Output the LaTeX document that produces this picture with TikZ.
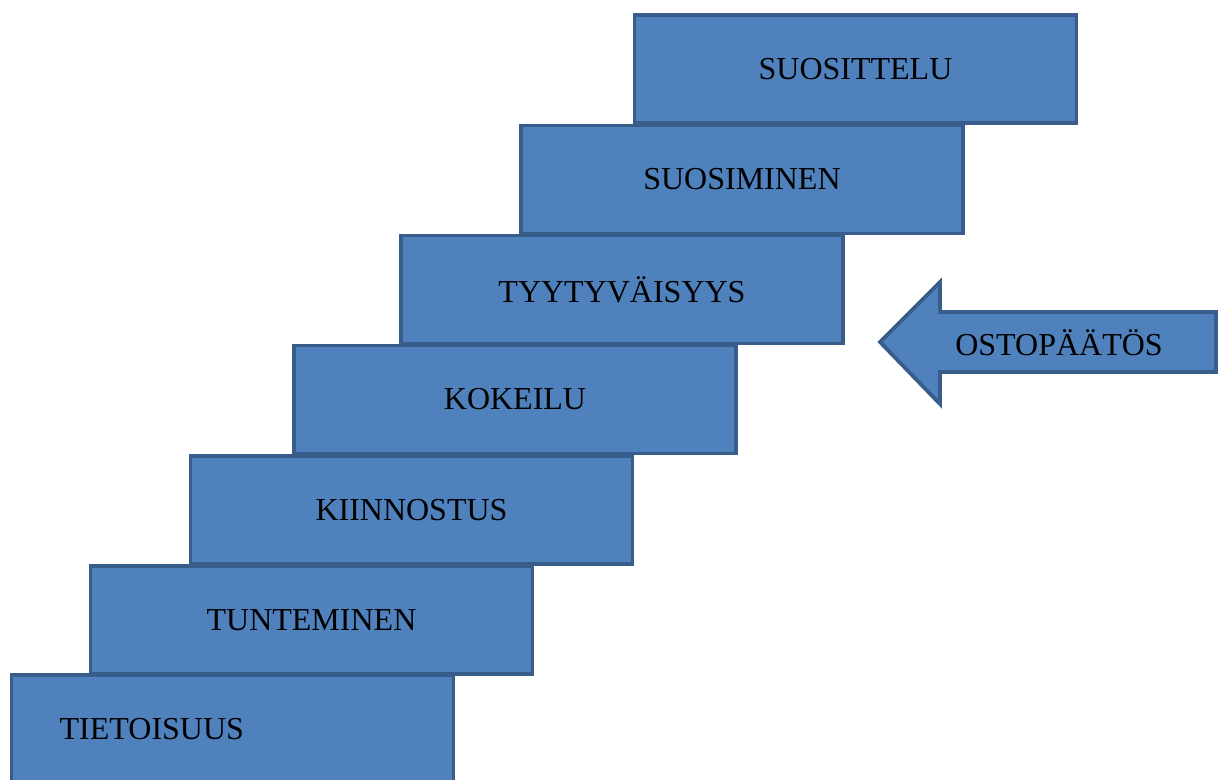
\documentclass[tikz,border=0pt]{standalone}
\usepackage{fontspec}
\setmainfont{Liberation Serif}
\definecolor{stepfill}{HTML}{4F81BD}
\definecolor{stepline}{HTML}{385D8A}
\tikzset{stepbox/.style={draw=stepline, fill=stepfill, line width=1.9pt, rectangle, minimum width=221pt, minimum height=54pt, inner sep=0pt}}
\begin{document}
\begin{tikzpicture}[x=0.5pt, y=-0.5pt, font=\fontsize{16}{19}\selectfont, line join=miter]
	\useasboundingbox (0,0) rectangle (1223,780);
	\node[stepbox] (tieto) at (232.5,729) {};
	\node[anchor=west] (tietotxt) at ([xshift=21.5pt]tieto.west) {TIETOISUUS};
	\foreach \n/\x/\y/\t in {tunt/311.5/620/TUNTEMINEN, kiin/411.5/510/KIINNOSTUS, koke/515/399.5/KOKEILU, tyyt/622/289.5/TYYTYVÄISYYS, suosim/742/179.5/SUOSIMINEN, suosit/855.5/69/SUOSITTELU}
		\node[stepbox] (\n) at (\x,\y) {\t};
	\draw [draw=stepline, fill=stepfill, line width=1.9pt] (880,342)--(940,282)--(940,312)--(1216,312)--(1216,372)--(940,372)--(940,404)--cycle;
	\node (osto) at (1059,343) {OSTOPÄÄTÖS};
\end{tikzpicture}
\end{document}
